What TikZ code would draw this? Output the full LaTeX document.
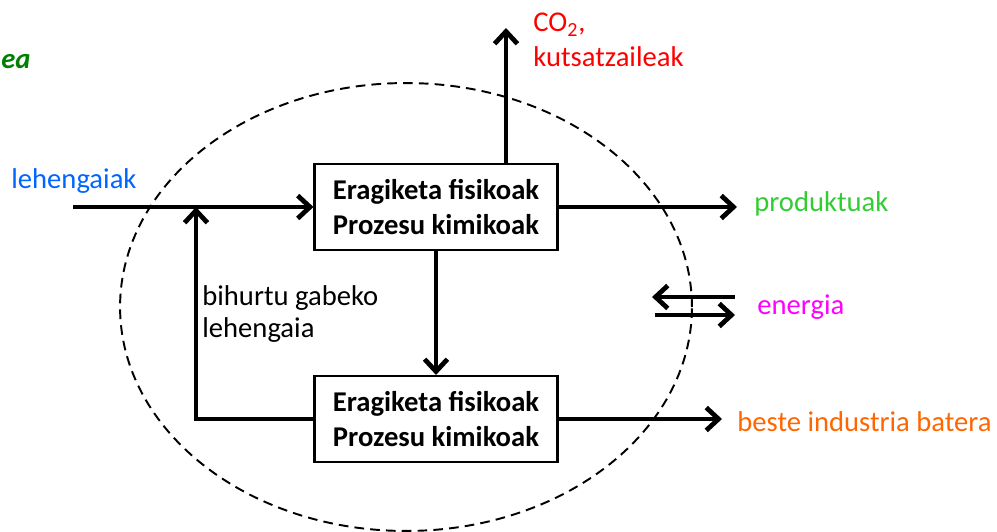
\documentclass[tikz,border=0pt]{standalone}
\usepackage{fontspec}
\setmainfont{Carlito}
\usetikzlibrary{arrows.meta}

\definecolor{inblue}{RGB}{0,102,255}
\definecolor{prodgreen}{RGB}{51,204,51}
\definecolor{titlegreen}{RGB}{0,128,0}
\definecolor{outorange}{RGB}{255,102,0}
\definecolor{enmagenta}{RGB}{255,0,255}
\definecolor{cored}{RGB}{255,0,0}

\begin{document}
\begin{tikzpicture}[x=0.02cm,y=-0.02cm,
	flow/.style={line width=2.7pt,-{Straight Barb[length=7pt,width=13pt]}},
	proc node/.style={draw,line width=1.2pt,minimum width=4.86cm,minimum height=1.72cm,align=center,font=\fontsize{16.3}{19.8}\selectfont\bfseries},
	label node/.style={anchor=west,inner sep=0pt,align=left,font=\fontsize{16.3}{19.8}\selectfont}
]

	\def \rx {5.72cm};
	\def \ry {4.48cm};

	\useasboundingbox (0,0) rectangle (997,531);

	\draw[dashed,line width=1.1pt,dash pattern=on 5.5pt off 3.5pt] (406,307) ellipse [x radius=\rx, y radius=\ry];

	\node[proc node] (P1) at (436,207) {Eragiketa fisikoak\\Prozesu kimikoak};
	\node[proc node] (P2) at (436,419) {Eragiketa fisikoak\\Prozesu kimikoak};

	\node[label node,text=titlegreen,font=\fontsize{16.3}{19.8}\selectfont\bfseries\itshape] (title) at (1,62) {ea};
	\node[label node,text=inblue] (lin) at (11,181) {lehengaiak};
	\node[label node,text=cored] (lco) at (533,40) {CO\textsubscript{2},\\kutsatzaileak};
	\node[label node,text=prodgreen] (lprod) at (754,204) {produktuak};
	\node[label node,text=enmagenta] (len) at (757,307) {energia};
	\node[label node,text=outorange] (lout) at (737,422) {beste industria batera};
	\node[label node,font=\fontsize{16.3}{18.1}\selectfont] (lrec) at (202,314) {bihurtu gabeko\\lehengaia};

	\coordinate (in) at (73,207);
	\coordinate (J) at (196,207);
	\coordinate (R) at (196,419);
	\coordinate (co2) at (506,28);
	\coordinate (prod) at (737,207);
	\coordinate (out) at (722,419);
	\coordinate (e1) at (735,297);
	\coordinate (e2) at (652,297);
	\coordinate (e3) at (655,315);
	\coordinate (e4) at (735,315);

	\draw[flow] (in) -- (P1);
	\draw[flow] (P2.west) -- (R) -- (J);
	\draw[flow] (P1) -- (P2);
	\draw[flow] (P1.north -| co2) -- (co2);
	\draw[flow] (P1) -- (prod);
	\draw[flow] (P2) -- (out);
	\draw[flow] (e1) -- (e2);
	\draw[flow] (e3) -- (e4);
\end{tikzpicture}
\end{document}
